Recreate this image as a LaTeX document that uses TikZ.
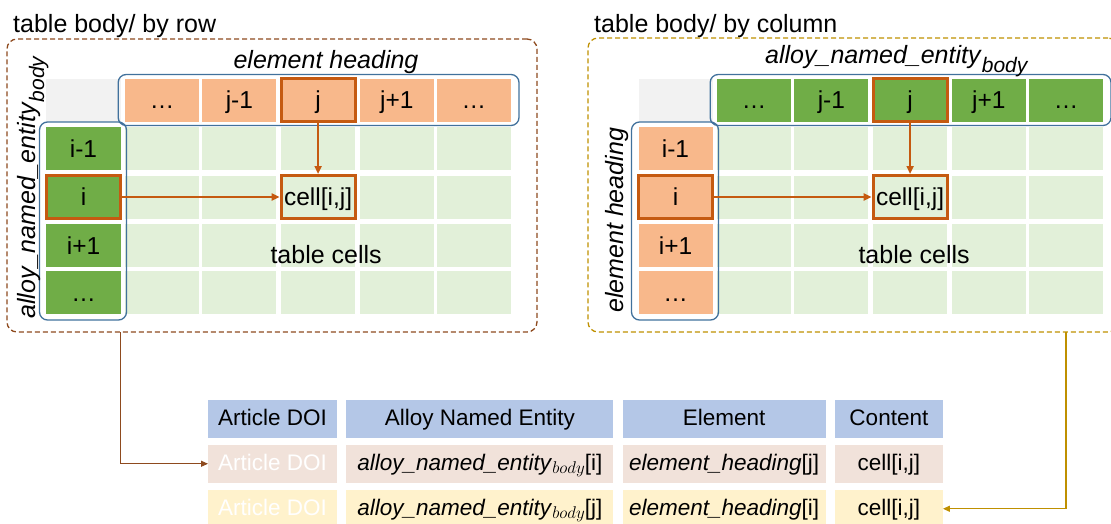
\RequirePackage{fix-cm}
\documentclass[tikz,border=0pt]{standalone}
\usepackage{fontspec}
\setmainfont{Liberation Sans}
\usetikzlibrary{matrix, arrows.meta, positioning}
\definecolor{hdrorange}{HTML}{F8B88B}
\definecolor{hdrgreen}{HTML}{70AD47}
\definecolor{lgreen}{HTML}{E2F0D9}
\definecolor{cornergray}{HTML}{F2F2F2}
\definecolor{hlorange}{HTML}{C55A11}
\definecolor{selblue}{HTML}{41719C}
\definecolor{rowbrown}{HTML}{8E4A1E}
\definecolor{colgold}{HTML}{BF9000}
\definecolor{theadblue}{HTML}{B4C7E7}
\definecolor{rowpink}{HTML}{F1E2DA}
\definecolor{rowyellow}{HTML}{FFF2CC}
\newcommand\fsz[1]{\fontsize{#1}{#1}\selectfont}
\newcommand\subtxt[1]{\raisebox{-9pt}{\fsz{21}\itshape #1}}
\newcommand\mathsub[1]{\raisebox{-3pt}{\fsz{17}$#1$}}
\tikzset{
  cell/.style={minimum width=74pt, minimum height=43pt, inner sep=0pt, outer sep=0pt,
    anchor=center, fill=lgreen, text height=17pt, text depth=0pt, font=\fsz{24.5}},
  hdrO/.style={fill=hdrorange},
  hdrG/.style={fill=hdrgreen},
  corner/.style={fill=cornergray},
  hl/.style={draw=hlorange, line width=3pt},
  grid/.style={matrix of nodes, nodes in empty cells, inner sep=0pt, outer sep=0pt,
    column sep=3.2pt, row sep=4pt, anchor=north west, nodes={cell}},
  selbox/.style={draw=selblue, line width=1.3pt, rounded corners=8pt},
  frameL/.style={draw=rowbrown, line width=1.3pt, dash pattern=on 5pt off 3pt,
    rounded corners=10pt, anchor=north west, inner sep=0pt, outer sep=0pt},
  frameR/.style={frameL, draw=colgold},
  harr/.style={draw=hlorange, line width=2pt, -{Triangle[length=8pt,width=7pt]}, shorten >=1.5pt},
  connL/.style={draw=rowbrown, line width=1.2pt, -{Triangle[length=7pt,width=6pt]}},
  connR/.style={connL, draw=colgold},
  lbl/.style={inner sep=0pt, font=\fsz{25}},
  ttl/.style={inner sep=0pt, anchor=base west, font=\fsz{25}},
  tcell/.style={minimum height=37.5pt, inner sep=0pt, outer sep=0pt, anchor=center,
    text height=14pt, text depth=0pt, font=\fsz{22.5}}
}

\begin{document}
\begin{tikzpicture}[x=1pt, y=-1pt]
\useasboundingbox (0,0) rectangle (1111,523);

% titles and dashed frames
\node[ttl] (rowttl) at (13,32) {table body/ by row};
\node[ttl] (colttl) at (594,32) {table body/ by column};
\node[frameL, minimum width=530pt, minimum height=293pt] (rowframe) at (7,39) {};
\node[frameR, minimum width=530pt, minimum height=294pt] (colframe) at (588,38) {};

% table body / by row
\matrix (L) [grid] at (45,77) {
|[corner]| & |[hdrO]| \dots & |[hdrO]| j-1 & |[hdrO,hl]| j & |[hdrO]| j+1 & |[hdrO]| \dots \\
|[hdrG]| i-1 & & & & & \\
|[hdrG,hl]| i & & & |[hl]| cell[i,j] & & \\
|[hdrG]| i+1 & & & & & \\
|[hdrG]| \dots & & & & & \\
};
\draw[selbox] ([xshift=-7pt, yshift=4pt]L-1-2.north west) rectangle ([xshift=8pt, yshift=-4pt]L-1-6.south east);
\draw[selbox] ([xshift=-7pt, yshift=5pt]L-2-1.north west) rectangle ([xshift=6pt, yshift=-6pt]L-5-1.south east);
\node[lbl, anchor=base] (lhead) at (326,68) {\textit{element heading}};
\node[lbl, rotate=90, anchor=base west] (lname) at (35,319) {\textit{alloy\_named\_entity}\subtxt{body}};
\node[lbl, anchor=base] (lcells) at ([xshift=8pt, yshift=4pt]L-4-4.south) {table cells};
\draw[harr] (L-1-4.south) -- (L-3-4.north);
\draw[harr] (L-3-1.east) -- (L-3-4.west);

% table body / by column
\matrix (R) [grid] at (637,77) {
|[corner]| & |[hdrG]| \dots & |[hdrG]| j-1 & |[hdrG,hl]| j & |[hdrG]| j+1 & |[hdrG]| \dots \\
|[hdrO]| i-1 & & & & & \\
|[hdrO,hl]| i & & & |[hl]| cell[i,j] & & \\
|[hdrO]| i+1 & & & & & \\
|[hdrO]| \dots & & & & & \\
};
\draw[selbox] ([xshift=-7pt, yshift=4pt]R-1-2.north west) rectangle ([xshift=8pt, yshift=-4pt]R-1-6.south east);
\draw[selbox] ([xshift=-7pt, yshift=5pt]R-2-1.north west) rectangle ([xshift=6pt, yshift=-6pt]R-5-1.south east);
\node[lbl, anchor=base west] (rname) at (765,63) {\textit{alloy\_named\_entity}\subtxt{body}};
\node[lbl, rotate=90, anchor=base west] (rhead) at (623,313) {\textit{element heading}};
\node[lbl, anchor=base] (rcells) at ([xshift=4pt, yshift=4pt]R-4-4.south) {table cells};
\draw[harr] (R-1-4.south) -- (R-3-4.north);
\draw[harr] (R-3-1.east) -- (R-3-4.west);

% result table
\matrix (T) [matrix of nodes, inner sep=0pt, outer sep=0pt, column sep=9.3pt, row sep=7.5pt,
  anchor=north west, nodes={tcell},
  column 1/.style={nodes={minimum width=129pt}}, column 2/.style={nodes={minimum width=267pt}},
  column 3/.style={nodes={minimum width=203pt}}, column 4/.style={nodes={minimum width=108pt}},
  row 1/.style={nodes={fill=theadblue}}, row 2/.style={nodes={fill=rowpink}},
  row 3/.style={nodes={fill=rowyellow}}] at (208,400) {
Article DOI & Alloy Named Entity & Element & Content \\
|[text=white]| Article DOI & \textit{alloy\_named\_entity}\mathsub{body}[i] & \textit{element\_heading}[j] & cell[i,j] \\
|[text=white]| Article DOI & \textit{alloy\_named\_entity}\mathsub{body}[j] & \textit{element\_heading}[i] & cell[i,j] \\
};

% connectors
\draw[connL] (rowframe.south -| L-5-1.east) |- (T-2-1.west);
\draw[connR] (colframe.south -| R-5-6) |- (T-3-4.east);
\end{tikzpicture}
\end{document}
